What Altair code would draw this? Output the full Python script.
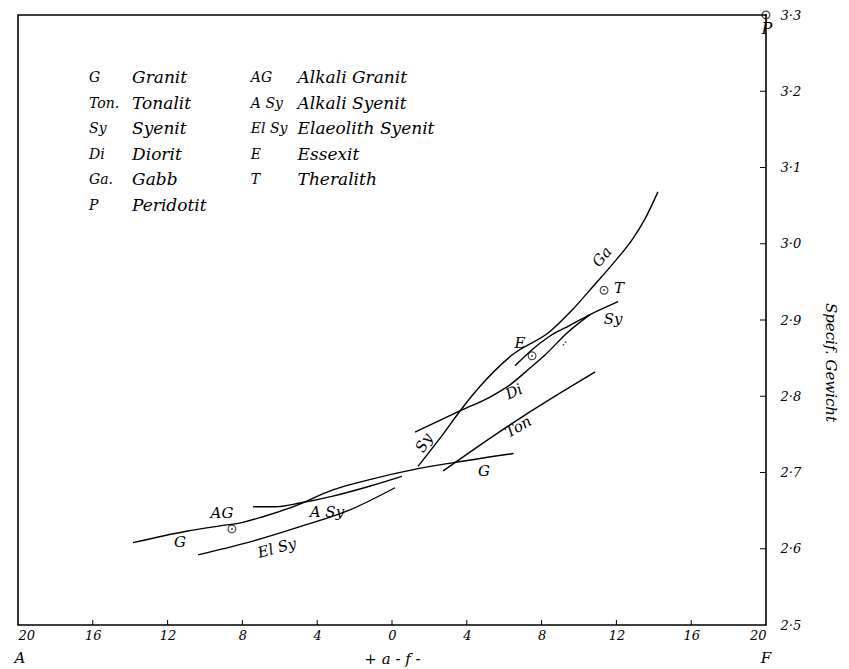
import altair as alt
import pandas as pd

# ---- data (x: a - f, y: specific gravity) ----
g_x = [-13.85, -11.0, -9.2, -8.1, -6.9, -5.2, -3.2, -1.3, 1.4, 3.3, 6.5]
g_y = [2.608, 2.623, 2.630, 2.634, 2.642, 2.656, 2.677, 2.690, 2.705, 2.713, 2.725]

asy_x = [-7.43, -6.26, -4.92, -3.16, -1.34, 0.53]
asy_y = [2.655, 2.655, 2.660, 2.669, 2.681, 2.695]

elsy_x = [-10.37, -7.59, -4.92, -2.25, 0.16]
elsy_y = [2.592, 2.609, 2.629, 2.651, 2.680]

ga_x = [1.39, 2.57, 3.74, 4.71, 6.47, 8.45, 9.63, 10.75, 11.82, 12.89, 13.58, 14.22]
ga_y = [2.708, 2.745, 2.784, 2.813, 2.855, 2.885, 2.913, 2.944, 2.974, 3.007, 3.035, 3.068]

di_x = [1.23, 3.74, 5.24, 6.31, 7.38, 8.18, 9.36, 10.59]
di_y = [2.753, 2.782, 2.799, 2.815, 2.837, 2.854, 2.883, 2.907]

sy_x = [6.58, 7.49, 8.45, 9.52, 10.59, 12.09]
sy_y = [2.840, 2.861, 2.879, 2.893, 2.907, 2.924]

ton_x = [2.73, 4.71, 6.84, 8.98, 10.86]
ton_y = [2.702, 2.736, 2.771, 2.804, 2.832]

pt_names = ["AG", "E", "T", "P"]
pt_x = [-8.56, 7.49, 11.34, 20.0]
pt_y = [2.626, 2.853, 2.939, 3.300]

lab_text = ["Ga", "T", "Sy", "E", "Di", "Ton", "G", "Sy", "AG", "A Sy", "G", "El Sy", "P", ":"]
lab_x = [11.23, 12.14, 11.82, 6.84, 6.52, 6.75, 4.92, 1.71, -9.09, -3.48, -11.34, -6.15, 20.05, 9.25]
lab_y = [2.983, 2.942, 2.901, 2.870, 2.806, 2.760, 2.702, 2.739, 2.647, 2.648, 2.609, 2.601, 3.282, 2.870]
lab_angle = [310, 0, 0, 0, 335, 330, 0, 300, 0, 0, 0, 345, 0, 30]
lab_size = [15, 15, 15, 15, 15, 15, 15, 15, 15, 15, 15, 15, 16, 11]

leg_abbr = ["G", "Ton.", "Sy", "Di", "Ga.", "P", "AG", "A Sy", "El Sy", "E", "T"]
leg_name = ["Granit", "Tonalit", "Syenit", "Diorit", "Gabb", "Peridotit",
            "Alkali Granit", "Alkali Syenit", "Elaeolith Syenit", "Essexit", "Theralith"]
leg_col = [0, 0, 0, 0, 0, 0, 1, 1, 1, 1, 1]
leg_row = [0, 1, 2, 3, 4, 5, 0, 1, 2, 3, 4]

x_ticks = [-20, -16, -12, -8, -4, 0, 4, 8, 12, 16, 20]
y_ticks = [2.5, 2.6, 2.7, 2.8, 2.9, 3.0, 3.1, 3.2, 3.3]

# ---- tables ----
rows = []
for name, xs_, ys_ in [("G", g_x, g_y), ("ASy", asy_x, asy_y), ("ElSy", elsy_x, elsy_y),
                       ("Ga", ga_x, ga_y), ("Di", di_x, di_y), ("Sy", sy_x, sy_y),
                       ("Ton", ton_x, ton_y)]:
    for i, (a, b) in enumerate(zip(xs_, ys_)):
        rows.append({"line": name, "x": a, "y": b, "o": i})
lines_df = pd.DataFrame(rows)
pts_df = pd.DataFrame({"name": pt_names, "x": pt_x, "y": pt_y})
lab_df = pd.DataFrame({"t": lab_text, "x": lab_x, "y": lab_y, "a": lab_angle, "s": lab_size})
leg_df = pd.DataFrame({"abbr": leg_abbr, "name": leg_name, "col": leg_col, "row": leg_row})

W, H = 748, 610
FONT = "DejaVu Serif"

xs = alt.Scale(domain=[-20, 20], nice=False, zero=False)
ys = alt.Scale(domain=[2.5, 3.3], nice=False, zero=False)

x_axis = alt.Axis(values=x_ticks, labelExpr="format(abs(datum.value), 'd')",
                  ticks=False, domain=False, grid=False, labelFont=FONT,
                  labelFontStyle="italic", labelFontSize=13, labelColor="black",
                  labelPadding=4, title="+ a - f -", titleFont=FONT,
                  titleFontStyle="italic", titleFontWeight="normal", titleFontSize=15,
                  titleY=33, titleBaseline="middle", titleColor="black")
y_axis = alt.Axis(orient="right", values=y_ticks,
                  labelExpr="replace(format(datum.value, '.1f'), '.', '·')",
                  ticks=False, domain=False, grid=False, labelFont=FONT,
                  labelFontStyle="italic", labelFontSize=13, labelColor="black",
                  labelPadding=14, title="Specif. Gewicht", titleFont=FONT,
                  titleFontStyle="italic", titleFontWeight="normal", titleFontSize=15,
                  titleAngle=90, titleX=64, titleY=347, titleAlign="center",
                  titleBaseline="middle", titleColor="black")

base_x = alt.X("x:Q", scale=xs, axis=x_axis)
base_y = alt.Y("y:Q", scale=ys, axis=y_axis)

lines = alt.Chart(lines_df).mark_line(color="black", strokeWidth=1.4,
                                      interpolate="monotone").encode(
    x=base_x, y=base_y, detail="line:N", order="o:Q")

circles = alt.Chart(pts_df).mark_point(shape="circle", size=60, color="black",
                                       filled=False, strokeWidth=1.2).encode(
    x=alt.X("x:Q", scale=xs), y=alt.Y("y:Q", scale=ys))
dots = alt.Chart(pts_df).mark_point(shape="circle", size=4, color="black",
                                    filled=True).encode(
    x=alt.X("x:Q", scale=xs), y=alt.Y("y:Q", scale=ys))

labels = alt.Chart(lab_df).mark_text(font=FONT, fontStyle="italic",
                                     color="black").encode(
    x=alt.X("x:Q", scale=xs), y=alt.Y("y:Q", scale=ys), text="t:N",
    angle=alt.Angle("a:Q", scale=None), size=alt.Size("s:Q", scale=None))

leg_base = alt.Chart(leg_df).transform_calculate(
    yy="3.217 - datum.row * 0.0335",
    xa="datum.col == 0 ? -16.2 : -7.55",
    xn="datum.col == 0 ? -13.9 : -5.05")
leg_a = leg_base.mark_text(font=FONT, fontStyle="italic", fontSize=14, align="left",
                           color="black").encode(
    x=alt.X("xa:Q", scale=xs), y=alt.Y("yy:Q", scale=ys), text="abbr:N")
leg_n = leg_base.mark_text(font=FONT, fontStyle="italic", fontSize=17, align="left",
                           color="black").encode(
    x=alt.X("xn:Q", scale=xs), y=alt.Y("yy:Q", scale=ys), text="name:N")

ends_df = pd.DataFrame({"t": ["A", "F"], "x": [-19.9, 20]})
ends = alt.Chart(ends_df).mark_text(font=FONT, fontStyle="italic", fontSize=15,
                                    color="black", baseline="middle").encode(
    x=alt.X("x:Q", scale=xs), y=alt.value(H + 33), text="t:N")

xt_df = pd.DataFrame({"x": x_ticks[1:-1]})
xtk = alt.Chart(xt_df).mark_rule(color="black", strokeWidth=1).encode(
    x=alt.X("x:Q", scale=xs), y=alt.value(H - 5), y2=alt.value(H))
yt_df = pd.DataFrame({"y": y_ticks[1:-1]})
ytk = alt.Chart(yt_df).mark_rule(color="black", strokeWidth=1).encode(
    y=alt.Y("y:Q", scale=ys), x=alt.value(W - 6), x2=alt.value(W))

chart = alt.layer(lines, circles, dots, labels, leg_a, leg_n, ends, xtk, ytk).properties(
    width=W, height=H,
    autosize=alt.AutoSizeParams(type="none"),
    padding={"left": 10, "top": 7, "right": 75, "bottom": 44},
).configure(background="white").configure_view(stroke="black", strokeWidth=1.6)

chart.save("out.html", embed_options={"renderer": "svg", "actions": False})
